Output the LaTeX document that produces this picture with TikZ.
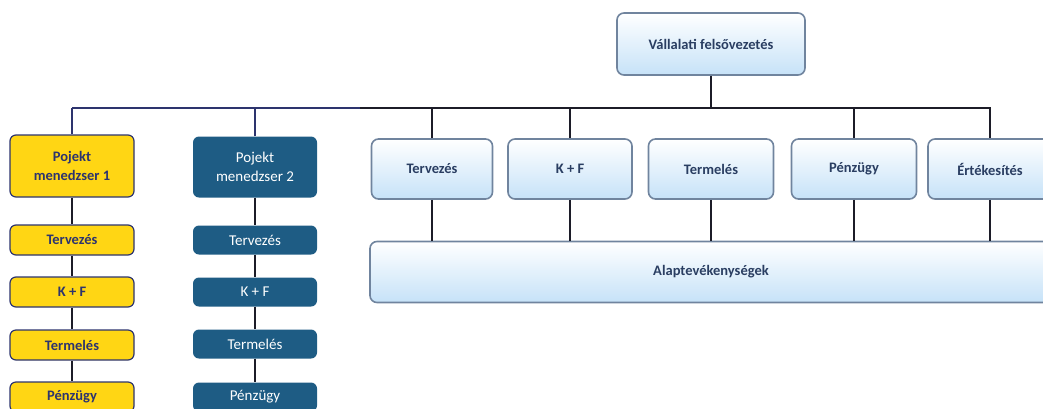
\documentclass[tikz,border=0pt]{standalone}
\usepackage{fontspec}
\setmainfont{Carlito}
\usepackage{tikz}
\usetikzlibrary{positioning, calc}
\definecolor{myyellow}{RGB}{255,214,20}
\definecolor{mynavy}{RGB}{45,52,110}
\definecolor{myblue}{RGB}{30,92,132}
\definecolor{myframe}{RGB}{112,132,158}
\definecolor{mylight}{RGB}{198,226,248}
\definecolor{mytext}{RGB}{42,62,98}
\definecolor{mydark}{RGB}{28,28,40}
\tikzset{
  lightbox/.style={rectangle, draw=myframe, top color=white, bottom color=mylight,
    align=center, rounded corners=7pt, line width=1.6pt,
    font=\fontsize{14.5}{18}\selectfont\bfseries, text=mytext},
  yellowbox/.style={rectangle, draw=mynavy, fill=myyellow, align=center,
    rounded corners=6pt, line width=1.2pt, minimum width=124pt,
    font=\fontsize{14.5}{19}\selectfont\bfseries, text=mynavy},
  bluebox/.style={rectangle, fill=myblue, align=center,
    rounded corners=6pt, minimum width=124pt,
    font=\fontsize{15}{19}\selectfont, text=white},
  line/.style={line width=1.1pt, color=mydark},
  yline/.style={line width=1.1pt, color=mynavy,
    preaction={draw=myyellow!30, line width=2.6pt}}
}
\begin{document}
\begin{tikzpicture}[x=1pt, y=-1pt]
  \useasboundingbox (0,0) rectangle (1043,408);

  % Top management
  \node[lightbox, minimum width=188pt, minimum height=62pt] (top) at (711,44) {Vállalati felsővezetés};
  \coordinate (bus) at (0,108);
  \coordinate (split) at (360,108);

  % Project managers
  \node[yellowbox, minimum height=62pt] (pm1) at (72,166) {Pojekt\\menedzser 1};
  \node[bluebox, minimum height=61pt] (pm2) at (255,167) {Pojekt\\menedzser 2};

  % Functional departments
  \node[lightbox, minimum width=121pt, minimum height=60pt] (terv) at (432,169) {Tervezés};
  \node[lightbox, minimum width=124pt, minimum height=60pt] (kf) at (570,169) {K + F};
  \node[lightbox, minimum width=125pt, minimum height=60pt] (term) at (711,169) {Termelés};
  \node[lightbox, minimum width=125pt, minimum height=60pt] (penz) at (854,169) {Pénzügy};
  \node[lightbox, minimum width=124pt, minimum height=60pt] (ert) at (990,169) {Értékesítés};

  % Core activities
  \node[lightbox, minimum width=682pt, minimum height=61pt] (alap) at (711,272) {Alaptevékenységek};

  % Project 1 chain
  \node[yellowbox, minimum height=30pt] (y1) at (72,240) {Tervezés};
  \node[yellowbox, minimum height=30pt] (y2) at (72,292) {K + F};
  \node[yellowbox, minimum height=30pt] (y3) at (72,345) {Termelés};
  \node[yellowbox, minimum height=30pt] (y4) at (72,397) {Pénzügy};

  % Project 2 chain
  \node[bluebox, minimum height=29pt] (b1) at (255,240) {Tervezés};
  \node[bluebox, minimum height=29pt] (b2) at (255,292) {K + F};
  \node[bluebox, minimum height=29pt] (b3) at (255,344) {Termelés};
  \node[bluebox, minimum height=29pt] (b4) at (255,397) {Pénzügy};

  % Bus
  \draw[yline] (pm1.north |- bus) -- (split);
  \draw[line, color=mynavy] (pm1.north) -- (pm1.north |- bus);
  \draw[line] (split) -- (ert.north |- bus) -- (ert.north);
  \draw[line] (top.south) -- (top.south |- bus);
  \draw[line, color=mynavy] (pm2.north) -- (pm2.north |- bus);
  \draw[line] (terv.north) -- (terv.north |- bus);
  \draw[line] (kf.north) -- (kf.north |- bus);
  \draw[line] (penz.north) -- (penz.north |- bus);

  % Departments to core activities
  \draw[line] (terv.south) -- (terv.south |- alap.north);
  \draw[line] (kf.south) -- (kf.south |- alap.north);
  \draw[line] (term.south) -- (term.south |- alap.north);
  \draw[line] (penz.south) -- (penz.south |- alap.north);
  \draw[line] (ert.south) -- (ert.south |- alap.north);

  % Chains
  \draw[line] (pm1) -- (y1) -- (y2) -- (y3) -- (y4);
  \draw[line] (pm2) -- (b1) -- (b2) -- (b3) -- (b4);
\end{tikzpicture}
\end{document}
